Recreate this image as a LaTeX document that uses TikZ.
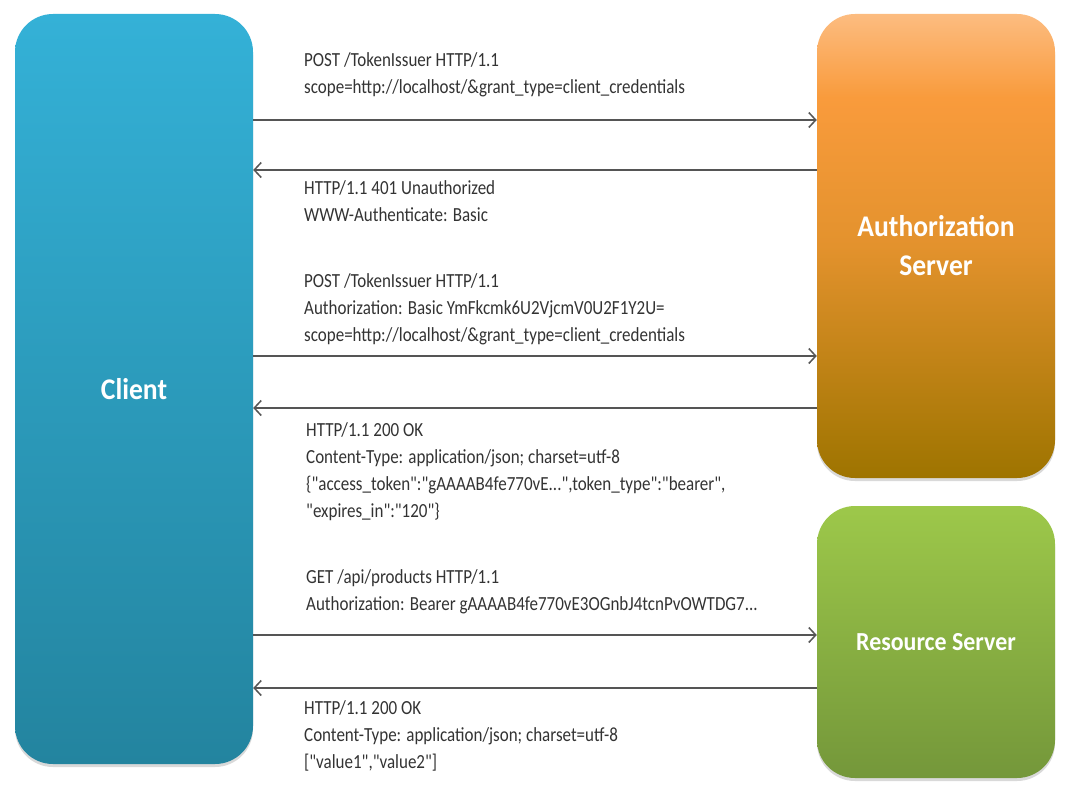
\documentclass[tikz,border=0pt]{standalone}
\usepackage{fontspec}
\setmainfont{Carlito}
\newfontfamily\bodyfont[FakeStretch=0.85]{Carlito}
\newfontfamily\labelfont[FakeStretch=0.92]{Carlito}
\usetikzlibrary{arrows.meta,shadows}
\definecolor{cltop}{HTML}{34B1D7}
\definecolor{clbot}{HTML}{23849F}
\definecolor{autop}{HTML}{FCBC80}
\definecolor{auor}{HTML}{F99B3C}
\definecolor{aumid}{HTML}{E3922D}
\definecolor{aubot}{HTML}{9E7400}
\definecolor{retop}{HTML}{9DC84A}
\definecolor{rebot}{HTML}{74973A}
\definecolor{arrgray}{HTML}{555555}
\pgfdeclareverticalshading{authshade}{100bp}{color(0bp)=(aubot); color(25bp)=(aubot); color(50bp)=(aumid); color(66bp)=(auor); color(75bp)=(autop); color(100bp)=(autop)}
\begin{document}
\begin{tikzpicture}[x=1pt,y=-1pt,
  box/.style={rectangle, rounded corners=38pt, minimum width=238pt,
    text=white, font=\labelfont\fontsize{30}{34}\selectfont\bfseries, align=center,
    drop shadow={opacity=0.3, shadow xshift=0pt, shadow yshift=-3pt}},
  msg/.style={anchor=north west, inner sep=0pt, align=left,
    font=\bodyfont\fontsize{20}{27}\selectfont, text=black!80},
  arr/.style={draw=arrgray, line width=1.5pt, -{Straight Barb[length=7pt,width=15pt]}}]
\useasboundingbox (0,0) rectangle (1067,800);
\node[box, minimum height=750pt, top color=cltop, bottom color=clbot] (client) at (134,389) {Client};
\node[box, minimum height=464pt, shading=authshade] (auth) at (936,246) {Authorization\\[5pt]Server};
\node[box, minimum height=272pt, top color=retop, bottom color=rebot, font=\labelfont\fontsize{26}{30}\selectfont\bfseries] (res) at (936,642) {Resource Server};

\coordinate (y1) at (0,120);
\coordinate (y2) at (0,170);
\coordinate (y3) at (0,356);
\coordinate (y4) at (0,408);
\coordinate (y5) at (0,635);
\coordinate (y6) at (0,688);

\draw[arr] (client.east |- y1) -- (auth.west |- y1);
\draw[arr] (auth.west |- y2) -- (client.east |- y2);
\draw[arr] (client.east |- y3) -- (auth.west |- y3);
\draw[arr] (auth.west |- y4) -- (client.east |- y4);
\draw[arr] (client.east |- y5) -- (res.west |- y5);
\draw[arr] (res.west |- y6) -- (client.east |- y6);

\node[msg] (m1) at (304,52) {POST /TokenIssuer HTTP/1.1\\scope=http://localhost/\&grant\_type=client\_credentials};
\node[msg] (m2) at (304,180) {HTTP/1.1 401 Unauthorized\\WWW-Authenticate: Basic};
\node[msg] (m3) at (304,273) {POST /TokenIssuer HTTP/1.1\\Authorization: Basic YmFkcmk6U2VjcmV0U2F1Y2U=\\scope=http://localhost/\&grant\_type=client\_credentials};
\node[msg] (m4) at (306,422) {HTTP/1.1 200 OK\\Content-Type: application/json; charset=utf-8\\\{"access\_token":"gAAAAB4fe770vE...",token\_type":"bearer",\\"expires\_in":"120"\}};
\node[msg] (m5) at (306,569) {GET /api/products HTTP/1.1\\Authorization: Bearer gAAAAB4fe770vE3OGnbJ4tcnPvOWTDG7...};
\node[msg] (m6) at (304,700) {HTTP/1.1 200 OK\\Content-Type: application/json; charset=utf-8\\{}["value1","value2"]};
\end{tikzpicture}
\end{document}
